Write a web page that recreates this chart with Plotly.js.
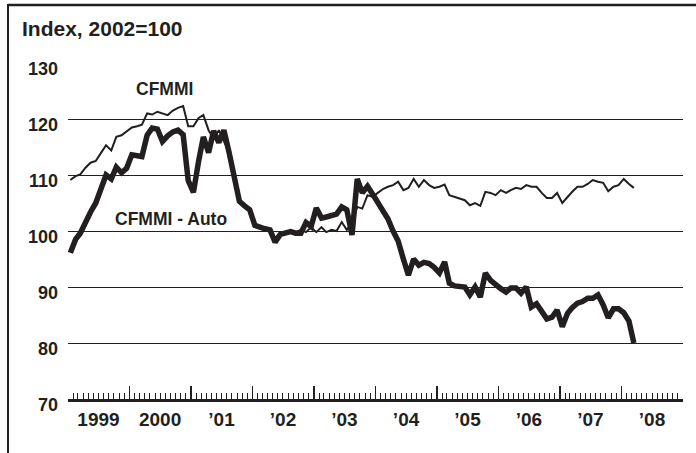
<!DOCTYPE html>
<html>
<head>
<meta charset="utf-8">
<script src="https://cdn.plot.ly/plotly-3.0.1.min.js"></script>
<style>
html,body{margin:0;padding:0;background:#fff;}
#chart{width:696px;height:453px;}
</style>
</head>
<body>
<div id="chart"></div>
<script>
// Monthly series, Jan 1999 - Mar 2008
var startYear = 1999, startMonth = 1;
var cfmmi = [109.1,109.8,110.1,111.3,112.2,112.5,113.9,115.3,114.4,116.8,117.1,117.8,
118.5,118.7,119.0,121.0,120.8,121.3,121.0,120.7,121.5,122.0,122.3,118.7,
118.7,120.2,120.7,118.0,116.5,118.0,116.0,114.0,110.2,105.5,104.6,103.8,
101.2,100.8,100.5,100.2,98.8,99.6,99.8,100.0,99.8,100.2,99.8,100.7,
99.8,100.7,99.8,100.2,100.0,101.6,100.2,101.5,104.3,104.0,106.4,106.1,
106.8,107.5,107.9,108.2,108.8,107.3,107.7,109.3,107.9,109.1,108.2,107.7,
107.9,108.3,106.4,106.1,105.9,105.5,104.6,105.0,104.5,107.0,106.8,106.4,
107.3,106.8,107.3,107.7,107.5,108.2,107.9,107.9,106.8,105.9,105.9,106.8,
105.0,106.1,107.0,107.9,107.9,108.4,109.1,108.8,108.6,107.1,107.9,108.2,
109.3,108.4,107.7];
var cfmmiAuto = [96.1,98.5,99.6,101.8,103.4,105.0,107.5,110.0,109.3,111.4,110.4,111.2,
113.6,113.4,113.3,117.1,118.4,118.2,116.0,117.0,117.7,118.0,117.2,109.0,
106.9,112.5,116.8,114.0,117.9,115.8,118.0,114.0,110.0,105.3,104.5,103.8,
101.0,100.6,100.4,100.2,98.0,99.4,99.7,99.9,99.6,99.6,101.5,100.8,
104.1,102.3,102.5,102.7,103.0,104.3,103.8,99.3,109.3,106.8,108.0,106.6,
105.2,103.6,102.2,100.0,98.2,95.0,92.1,95.0,93.9,94.4,94.2,93.5,
92.5,94.5,90.7,90.2,90.0,90.0,88.6,90.0,88.2,92.5,91.2,90.4,
89.7,89.1,89.8,89.8,88.9,90.0,86.4,87.0,85.5,84.3,84.6,85.9,
82.9,85.3,86.3,87.1,87.4,88.0,88.0,88.6,86.8,84.5,86.1,86.1,
85.4,83.9,80.0];
var yearTickVals = ['1999-07-01','2000-07-01','2001-07-01','2002-07-01','2003-07-01',
                    '2004-07-01','2005-07-01','2006-07-01','2007-07-01','2008-07-01'];
var yearTickText = ['1999','2000','\u201901','\u201902','\u201903','\u201904','\u201905','\u201906','\u201907','\u201908'];
var yTickVals = [70,80,90,100,110,120,130];

function pad(n){return (n<10?'0':'')+n;}
var dates = [];
for (var i = 0; i < cfmmi.length; i++) {
  var m = startMonth - 1 + i;
  var y = startYear + Math.floor(m / 12);
  dates.push(y + '-' + pad(m % 12 + 1) + '-15');
}

var ink = '#231f20';
var fam = '"Liberation Sans", Arial, Helvetica, sans-serif';

var traces = [
  {x: dates, y: cfmmi, type: 'scatter', mode: 'lines', name: 'CFMMI',
   line: {color: ink, width: 2}, hoverinfo: 'skip'},
  {x: dates, y: cfmmiAuto, type: 'scatter', mode: 'lines', name: 'CFMMI - Auto',
   line: {color: ink, width: 5.5}, hoverinfo: 'skip'}
];

var xr = ['1999-01-01', '2009-01-01'];
var layout = {
  width: 696, height: 453,
  margin: {l: 68, r: 13, t: 63, b: 54},
  paper_bgcolor: '#fff', plot_bgcolor: '#fff',
  showlegend: false,
  font: {family: fam, color: ink, size: 18, weight: 'bold'},
  title: {text: 'Index, 2002=100', xref: 'container', yref: 'container',
          x: 22/696, xanchor: 'left', y: 1 - 29/453, yanchor: 'middle',
          font: {family: fam, size: 21, color: ink, weight: 'bold'}},
  xaxis: {type: 'date', range: xr, showgrid: false, zeroline: false,
          showline: true, linecolor: ink, linewidth: 2.5,
          ticks: 'inside', dtick: 'M12', tick0: '1999-01-01', ticklen: 13, tickwidth: 1.2, tickcolor: ink,
          showticklabels: false,
          minor: {dtick: 'M1', tick0: '1999-01-01', ticks: 'inside', ticklen: 6, tickwidth: 1, tickcolor: ink, showgrid: false}},
  xaxis2: {type: 'date', range: xr, overlaying: 'x', matches: 'x', anchor: 'y', side: 'bottom',
           showgrid: false, zeroline: false, showline: false, ticks: '',
           tickmode: 'array', tickvals: yearTickVals, ticktext: yearTickText,
           ticklabelstandoff: 7,
           tickfont: {family: fam, size: 19, color: ink, weight: 'bold'}},
  yaxis: {range: [70, 130], tickmode: 'array', tickvals: yTickVals,
          showgrid: true, gridcolor: ink, gridwidth: 1, zeroline: false, showline: false, ticks: '',
          ticklabelstandoff: 9, ticklabelshift: 6,
          tickfont: {family: fam, size: 18, color: ink, weight: 'bold'}},
  annotations: [
    {text: 'CFMMI', x: '2000-07-29', y: 125.3, xref: 'x', yref: 'y', showarrow: false,
     xanchor: 'center', yanchor: 'middle', font: {family: fam, size: 17.5, color: ink, weight: 'bold'}},
    {text: 'CFMMI - Auto', x: '2000-09-01', y: 102.2, xref: 'x', yref: 'y', showarrow: false,
     xanchor: 'center', yanchor: 'middle', font: {family: fam, size: 17.5, color: ink, weight: 'bold'}}
  ],
  shapes: [
    {type: 'line', xref: 'paper', yref: 'paper', x0: (8-68)/615, x1: (700-68)/615,
     y0: (399-5)/336, y1: (399-5)/336, line: {color: ink, width: 2.5}},
    {type: 'line', xref: 'paper', yref: 'paper', x0: (8-68)/615, x1: (8-68)/615,
     y0: (399-4)/336, y1: (399-460)/336, line: {color: ink, width: 2}}
  ]
};

traces.push({x: dates, y: cfmmi, xaxis: 'x2', type: 'scatter', mode: 'lines',
             line: {width: 0}, opacity: 0, hoverinfo: 'skip', showlegend: false});

Plotly.newPlot('chart', traces, layout, {staticPlot: true, displayModeBar: false});
</script>
</body>
</html>
